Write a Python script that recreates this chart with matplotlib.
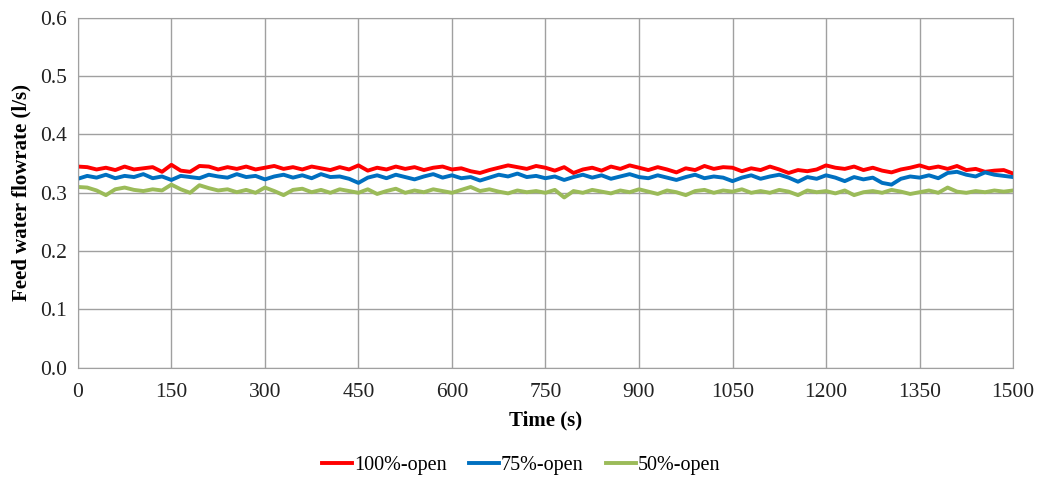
import matplotlib
matplotlib.use("Agg")
import matplotlib.pyplot as plt
import numpy as np

plt.rcParams["font.family"] = ["Liberation Serif", "DejaVu Serif"]

time_s = np.arange(0, 1501, 15)

open_100 = [
    .345, .344, .340, .343, .339, .345, .340, .342, .344, .336,
    .348, .338, .336, .346, .345, .340, .344, .341, .345, .340,
    .343, .346, .341, .344, .340, .345, .342, .339, .344, .340,
    .347, .338, .343, .340, .345, .341, .344, .339, .343, .345,
    .340, .342, .337, .334, .339, .343, .347, .344, .341, .346,
    .343, .338, .344, .334, .340, .343, .338, .345, .341, .347,
    .343, .339, .344, .340, .335, .342, .339, .346, .341, .344,
    .343, .337, .342, .339, .345, .340, .334, .339, .337, .340,
    .347, .343, .341, .345, .339, .343, .338, .335, .340, .343,
    .347, .342, .345, .341, .346, .339, .341, .336, .338, .339,
    .333,
]

open_75 = [
    .324, .329, .326, .331, .325, .329, .327, .332, .325, .328,
    .322, .329, .327, .325, .331, .328, .326, .332, .327, .329,
    .323, .328, .331, .326, .330, .325, .332, .327, .328, .324,
    .317, .326, .330, .325, .331, .327, .323, .328, .332, .326,
    .330, .325, .327, .321, .326, .331, .328, .333, .327, .329,
    .325, .328, .322, .327, .331, .326, .330, .324, .328, .332,
    .327, .325, .330, .326, .322, .327, .331, .325, .328, .326,
    .320, .326, .330, .324, .328, .331, .326, .319, .327, .324,
    .330, .326, .320, .327, .323, .326, .317, .314, .324, .328,
    .326, .330, .325, .334, .336, .331, .328, .335, .331, .329,
    .327,
]

open_50 = [
    .310, .309, .304, .296, .306, .309, .305, .303, .306, .304,
    .314, .306, .300, .313, .308, .304, .306, .301, .305, .300,
    .309, .303, .296, .305, .307, .301, .305, .300, .306, .303,
    .300, .306, .298, .303, .307, .300, .304, .301, .306, .303,
    .300, .305, .310, .303, .306, .302, .299, .304, .301, .303,
    .300, .305, .292, .303, .300, .305, .302, .299, .304, .301,
    .306, .302, .298, .304, .301, .296, .303, .305, .300, .304,
    .302, .306, .300, .303, .300, .305, .302, .296, .304, .301,
    .303, .299, .304, .296, .301, .303, .300, .305, .302, .298,
    .301, .304, .300, .309, .302, .300, .303, .301, .304, .302,
    .304,
]

series = [
    ("100%-open", open_100, "#ff0000"),
    ("75%-open", open_75, "#0070c0"),
    ("50%-open", open_50, "#9bbb59"),
]

fig = plt.figure(figsize=(10.38, 4.82), dpi=100)
ax = fig.add_axes([0.075, 0.237, 0.901, 0.726])

for label, vals, color in series:
    ax.plot(time_s, vals, color=color, linewidth=2.8, label=label)

ax.set_xlim(0, 1500)
ax.set_ylim(0, 0.6)
ax.set_xticks(np.arange(0, 1501, 150))
ax.set_yticks(np.arange(0, 0.61, 0.1))
ax.yaxis.set_major_formatter(matplotlib.ticker.FormatStrFormatter("%.1f"))
ax.tick_params(length=0, labelsize=15.5, colors="#222222")
ax.tick_params(axis="x", pad=11)
ax.tick_params(axis="y", pad=8)
ax.grid(True, color="#a0a0a0", linewidth=1.0)
ax.set_axisbelow(True)
for sp in ax.spines.values():
    sp.set_color("#a0a0a0")

ax.set_xlabel("Time (s)", fontsize=15, fontweight="bold", labelpad=6)
ax.set_ylabel("Feed water flowrate (l/s)", fontsize=15, fontweight="bold", labelpad=6)

fig.legend(loc="center", bbox_to_anchor=(0.502, 0.035), ncol=3, frameon=False,
           fontsize=14.5, handlelength=1.5, handletextpad=0.1, columnspacing=1.1)

fig.savefig("out.png", dpi=100)
